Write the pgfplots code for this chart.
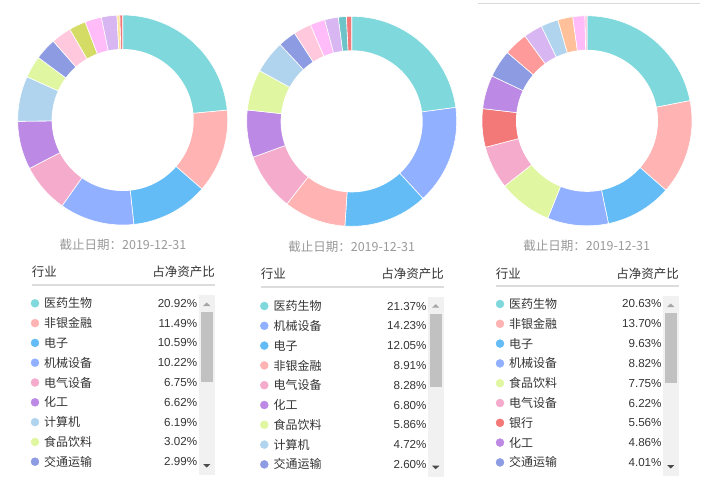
\documentclass[border=0pt]{standalone}
\usepackage{fontspec}
\setmainfont{Liberation Sans}
\newfontfamily\cjk{Noto Sans CJK SC}
\usepackage{pgfplots}
\usepackage{pgfplotstable}
\pgfplotsset{compat=1.18}

% sector colours, one per industry
\definecolor{cA}{HTML}{7FD8DC}
\definecolor{cB}{HTML}{FFB3B3}
\definecolor{cC}{HTML}{63BCF5}
\definecolor{cD}{HTML}{91B0FF}
\definecolor{cE}{HTML}{F5ABCC}
\definecolor{cF}{HTML}{BC8AE4}
\definecolor{cG}{HTML}{B0D4EE}
\definecolor{cH}{HTML}{E0F6A0}
\definecolor{cI}{HTML}{8C9BE2}
\definecolor{cJ}{HTML}{FFC8DC}
\definecolor{cK}{HTML}{D4DC66}
\definecolor{cL}{HTML}{FFBCF8}
\definecolor{cM}{HTML}{D8B6F2}
\definecolor{cN}{HTML}{FFE49A}
\definecolor{cO}{HTML}{F07878}
\definecolor{cP}{HTML}{6CC4C8}
\definecolor{cQ}{HTML}{F37878}
\definecolor{cR}{HTML}{FF9A9A}
\definecolor{cS}{HTML}{FFC09A}
\definecolor{cT}{HTML}{FFB8D8}
\definecolor{txt}{HTML}{333333}
\definecolor{datecol}{HTML}{999999}
\definecolor{rule}{HTML}{DCDCDC}
\definecolor{sbbg}{HTML}{F1F1F1}
\definecolor{sbthumb}{HTML}{C1C1C1}

\pgfplotstableread{
name v c
医药生物 20.92 cA
非银金融 11.49 cB
电子 10.59 cC
机械设备 10.22 cD
电气设备 6.75 cE
化工 6.62 cF
计算机 6.19 cG
食品饮料 3.02 cH
交通运输 2.99 cI
其他1 2.75 cJ
其他2 2.30 cK
其他3 2.28 cL
其他4 2.12 cM
其他5 0.40 cN
其他6 0.38 cO
}\tblA

\pgfplotstableread{
name v c
医药生物 21.37 cA
机械设备 14.23 cD
电子 12.05 cC
非银金融 8.91 cB
电气设备 8.28 cE
化工 6.80 cF
食品饮料 5.86 cH
计算机 4.72 cG
交通运输 2.60 cI
其他1 2.55 cJ
其他2 2.15 cL
其他3 1.95 cM
其他4 1.15 cP
其他5 0.75 cO
}\tblB

\pgfplotstableread{
name v c
医药生物 20.63 cA
非银金融 13.70 cB
电子 9.63 cC
机械设备 8.82 cD
食品饮料 7.75 cH
电气设备 6.22 cE
银行 5.56 cQ
化工 4.86 cF
交通运输 4.01 cI
其他1 3.45 cR
其他2 2.74 cM
计算机 2.51 cG
其他3 2.17 cS
其他4 1.75 cL
其他5 0.29 cT
}\tblC

\newcommand\rowfont{\cjk\fontsize{12}{14}\selectfont}
\newcommand\numfont{\fontsize{11.6}{14}\selectfont}

% donut: table, centre x, centre y (pixel units, y downwards)
\newcommand\donut[3]{%
  \pgfplotstablegetrowsof{#1}%
  \pgfmathtruncatemacro\nlast{\pgfplotsretval-1}%
  \def\tot{0}%
  \pgfplotsforeachungrouped \i in {0,...,\nlast}{%
    \pgfplotstablegetelem{\i}{v}\of{#1}%
    \pgfmathsetmacro\tot{\tot+\pgfplotsretval}}%
  \def\acc{90}%
  \pgfplotsforeachungrouped \i in {0,...,\nlast}{%
    \pgfplotstablegetelem{\i}{v}\of{#1}\let\val\pgfplotsretval
    \pgfplotstablegetelem{\i}{c}\of{#1}\let\col\pgfplotsretval
    \pgfmathsetmacro\aend{\acc-360*\val/\tot}%
    \edef\cmd{\noexpand\addplot[fill=\col, draw=white, line width=0.6pt,
        domain=\aend:\acc, samples=40]
      ({#2+105*cos(x)},{#3-105*sin(x)}) -- (axis cs:#2,#3) -- cycle;}%
    \cmd
    \let\acc\aend}%
  \addplot[fill=white, draw=none, domain=0:360, samples=120]
    ({#2+71*cos(x)},{#3-71*sin(x)}) -- cycle;
}

% legend list: table, dot x, first row y, right edge of the numbers
\newcommand\legendlist[4]{%
  \pgfplotsforeachungrouped \i in {0,...,8}{%
    \pgfplotstablegetelem{\i}{name}\of{#1}\let\nm\pgfplotsretval
    \pgfplotstablegetelem{\i}{v}\of{#1}\let\val\pgfplotsretval
    \pgfplotstablegetelem{\i}{c}\of{#1}\let\col\pgfplotsretval
    \pgfmathsetmacro\yy{#3+19.8*\i}%
    \pgfmathsetmacro\xx{#2+9}%
    \edef\cmd{%
      \noexpand\addplot[only marks, mark=*, mark size=4pt, color=\col,
        mark options={draw=\col, fill=\col}] coordinates {(#2,\yy)};
      \noexpand\node[anchor=west, inner sep=0pt, font=\noexpand\rowfont, text=txt]
        at (axis cs:\xx,\yy) {\nm};
      \noexpand\node[anchor=east, inner sep=0pt, font=\noexpand\numfont, text=txt]
        at (axis cs:#4,\yy) {\val\noexpand\%};}%
    \cmd}%
}

% header, rule, date and scroll bar: left x, right x, header y, rule y,
% date centre x, date y, scroll bar top, thumb top, thumb bottom
\newcommand\decor[9]{%
  \node[anchor=west, inner sep=0pt, text=txt, font=\cjk\fontsize{12.5}{14}\selectfont]
    at (axis cs:#1,#3) {行业};
  \node[anchor=east, inner sep=0pt, text=txt, font=\cjk\fontsize{12.5}{14}\selectfont]
    at (axis cs:#2,#3) {占净资产比};
  \draw[rule, line width=2pt] (axis cs:#1,#4) -- (axis cs:#2,#4);
  \node[inner sep=0pt, text=datecol, font=\cjk\fontsize{12.5}{14}\selectfont]
    at (axis cs:#5,#6) {截止日期：2019-12-31};
  \fill[sbbg] (axis cs:#2-16.5,#7) rectangle (axis cs:#2,#7+180);
  \fill[sbthumb] (axis cs:#2-14.5,#8) rectangle (axis cs:#2-2.3,#9);
  \fill[black!35] (axis cs:#2-12,#7+11) -- (axis cs:#2-4.6,#7+11) -- (axis cs:#2-8.3,#7+7.5) -- cycle;
  \fill[black!70] (axis cs:#2-12,#7+169) -- (axis cs:#2-4.6,#7+169) -- (axis cs:#2-8.3,#7+172.5) -- cycle;
}

\begin{document}
\begin{tikzpicture}
\path[use as bounding box] (0,0) rectangle (710pt,499pt);
\begin{axis}[
    at={(0,0)}, anchor=south west,
    scale only axis, width=710pt, height=499pt,
    xmin=0, xmax=710, ymin=0, ymax=499, y dir=reverse,
    hide axis, clip=false,
]
\draw[black!15, line width=1pt] (axis cs:478,3.3) -- (axis cs:700,3.3);

\donut{\tblA}{122.7}{120}
\donut{\tblB}{351.7}{121.3}
\donut{\tblC}{587}{120.8}

\decor{31.7}{215}{271.7}{285}{123}{245}{295}{311.7}{382}
\decor{260.7}{444}{273.3}{286.7}{351.7}{247}{296.7}{314}{387}
\decor{495.7}{679}{273.3}{286}{586.7}{246}{296}{313}{383}

\legendlist{\tblA}{35}{303.3}{197.3}
\legendlist{\tblB}{264.3}{306}{426.7}
\legendlist{\tblC}{500}{304}{661.7}
\end{axis}
\end{tikzpicture}
\end{document}
